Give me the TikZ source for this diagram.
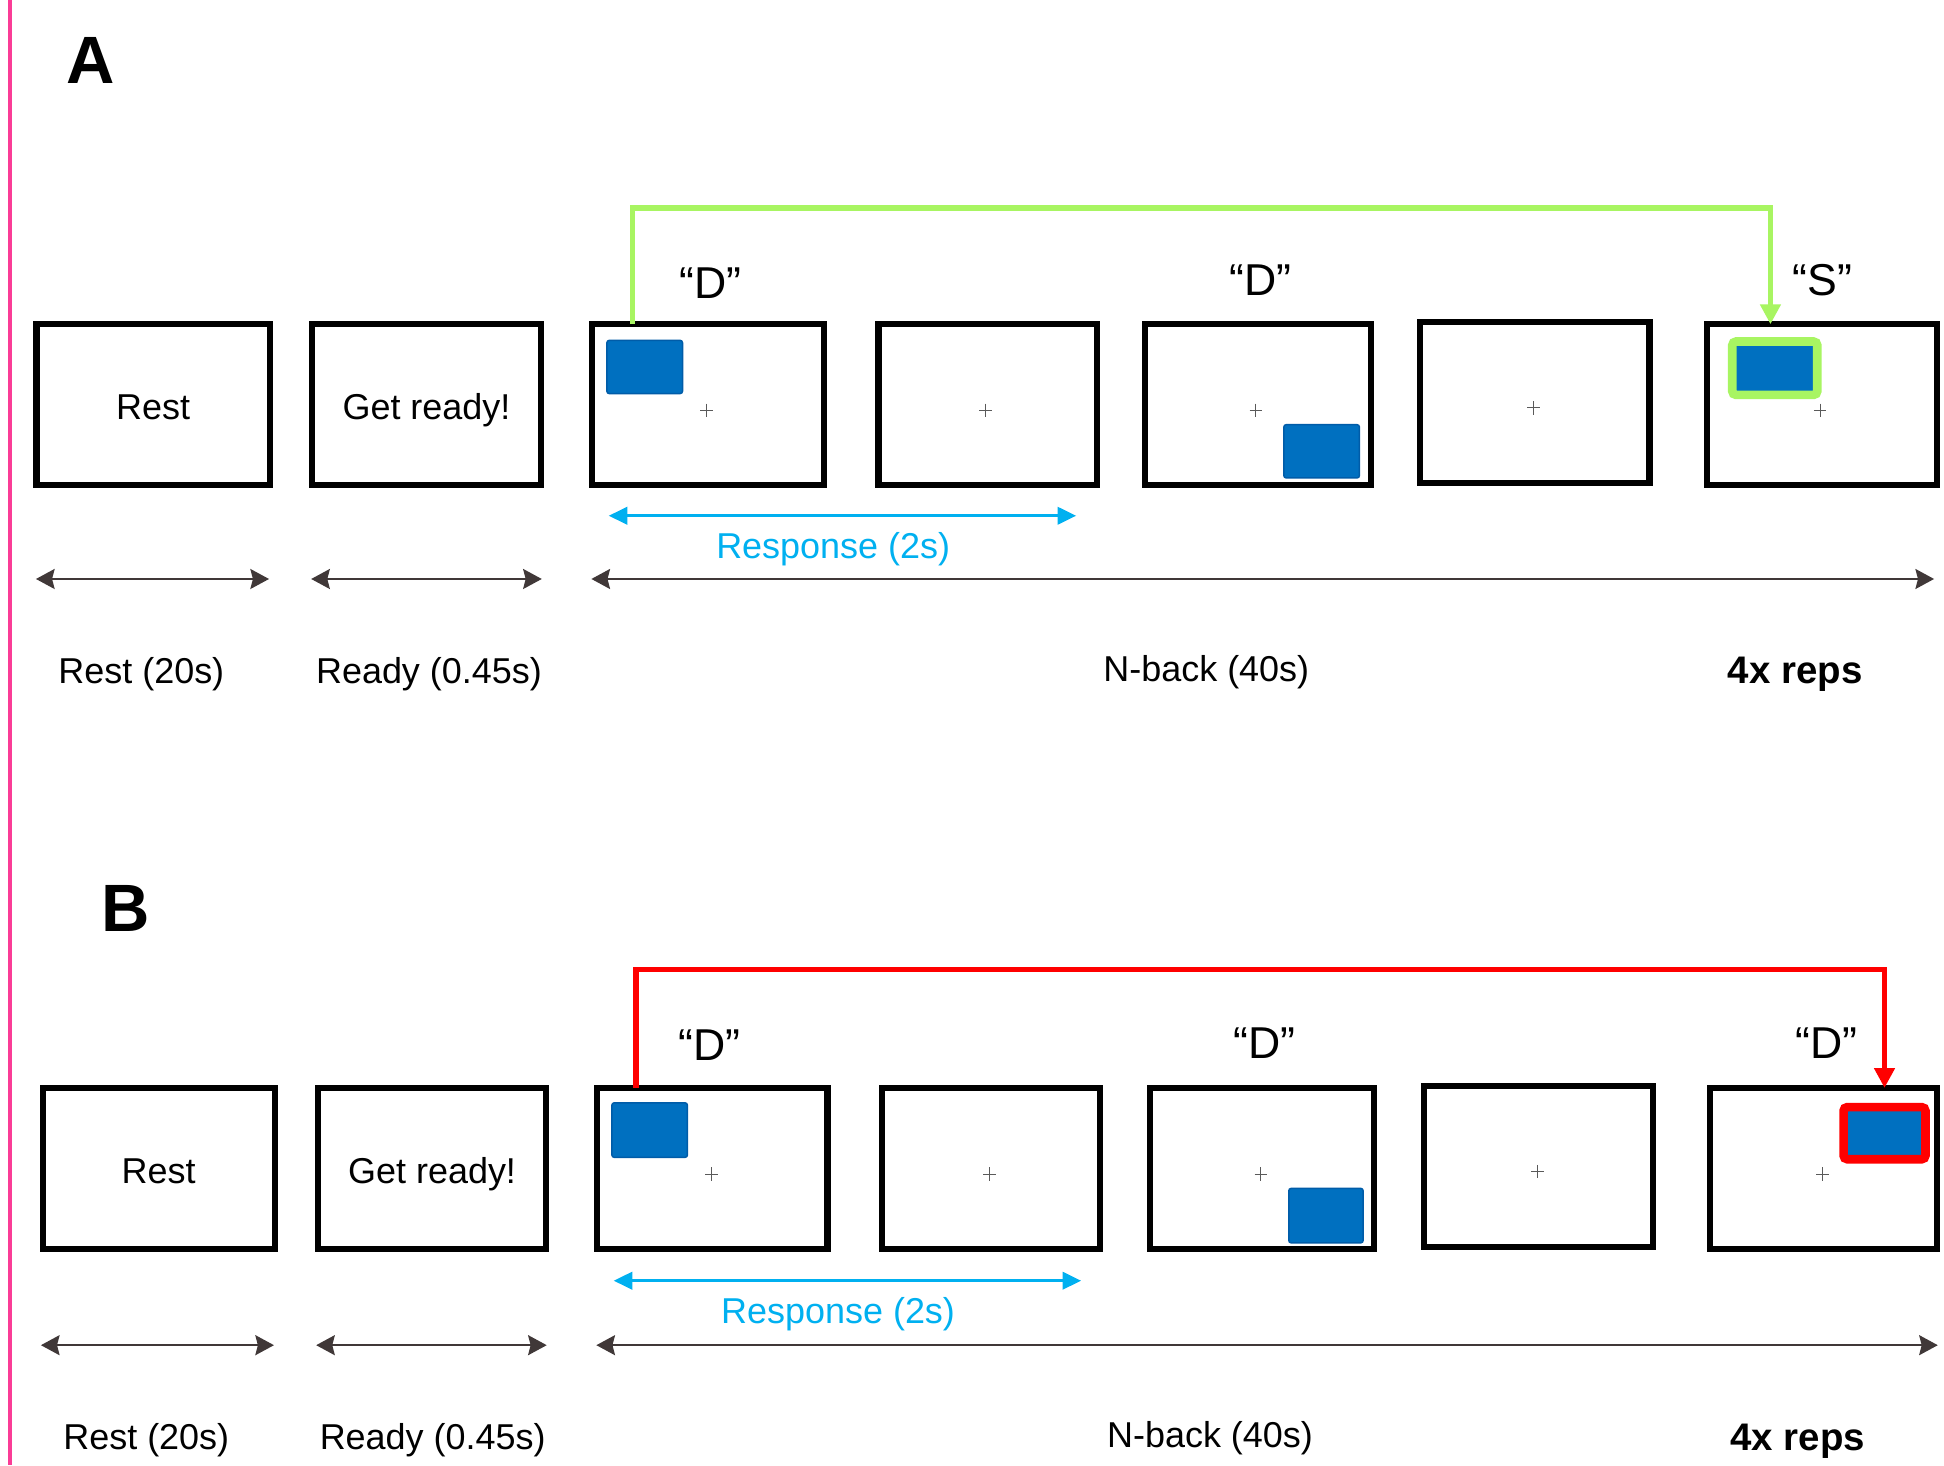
\documentclass[tikz,border=0pt]{standalone}
\usepackage{fontspec}
\setmainfont{Liberation Sans}
\usetikzlibrary{arrows.meta,calc}
\definecolor{pinkline}{RGB}{250,60,150}
\definecolor{greenc}{RGB}{168,245,98}
\definecolor{bluec}{RGB}{0,112,192}
\definecolor{blueedge}{RGB}{0,92,168}
\definecolor{cyanc}{RGB}{0,176,240}
\definecolor{redc}{RGB}{255,0,0}
\definecolor{darkc}{RGB}{64,56,56}
\definecolor{crossc}{RGB}{90,90,90}
\begin{document}
\begin{tikzpicture}[x=1pt,y=-1pt,
  screen/.style={draw=black,line width=5pt,minimum height=130pt,inner sep=0pt,outer sep=0pt,font=\fontsize{29}{34}\selectfont,text height=23.8pt,text depth=0pt},
  stim/.style={fill=bluec,draw=blueedge,line width=1.2pt,rounded corners=2pt,inner sep=0pt,outer sep=0pt},
  hitbox/.style={fill=bluec,draw=greenc,line width=7pt,rounded corners=3pt,inner sep=0pt,outer sep=0pt},
  missbox/.style={fill=bluec,draw=redc,line width=7pt,rounded corners=3pt,inner sep=0pt,outer sep=0pt},
  fixcross/.style={draw=crossc,line width=0.8pt},
  panel/.style={font=\fontsize{54}{62}\selectfont\bfseries},
  letter/.style={font=\fontsize{36}{42}\selectfont},
  lab/.style={font=\fontsize{29}{34}\selectfont,text height=20.8pt,text depth=0pt},
  boldlab/.style={font=\fontsize{31}{36}\selectfont\bfseries,text height=22.2pt,text depth=0pt},
  resp/.style={font=\fontsize{29}{34}\selectfont,text=cyanc,text height=20.8pt,text depth=0pt},
  timearrow/.style={draw=darkc,line width=2pt,{Stealth[width=16pt,length=15pt,inset=2pt]}-{Stealth[width=16pt,length=15pt,inset=2pt]}},
  resparrow/.style={draw=cyanc,line width=2.3pt,{Triangle[width=14pt,length=15pt]}-{Triangle[width=14pt,length=15pt]}},
  gconn/.style={draw=greenc,line width=4.5pt,-{Triangle[width=16pt,length=16pt]}},
  rconn/.style={draw=redc,line width=4.5pt,-{Triangle[width=16pt,length=16pt]}}
]
\useasboundingbox[fill=white] (0,0) rectangle (1568,1182);
\fill[pinkline] (6.5,0) rectangle (9.5,1182);

% ---------------- Panel A ----------------
\node[panel] (pA) at (73,49) {A};
\node[screen,minimum width=188pt] (a1) at (123.5,326.5) {Rest};
\node[screen,minimum width=185pt] (a2) at (344,326.5) {Get ready!};
\node[screen,minimum width=187pt] (a3) at (571,326.5) {};
\node[screen,minimum width=176pt] (a4) at (796.5,326.5) {};
\node[screen,minimum width=182pt] (a5) at (1014.5,326.5) {};
\node[screen,minimum width=185pt] (a6) at (1238,324.5) {};
\node[screen,minimum width=186pt] (a7) at (1469.5,326.5) {};

\node[stim,minimum width=61pt,minimum height=43pt] (sa3) at (520,296) {};
\node[stim,minimum width=61pt,minimum height=43pt] (sa5) at (1066,364) {};
\node[hitbox,minimum width=68.5pt,minimum height=43pt] (sa7) at (1431.5,297) {};

\foreach \x/\y in {570/331,795/331,1013/331,1237/329,1468/331}
  \draw[fixcross] (\x-5,\y) -- (\x+5,\y) (\x,\y-5.5) -- (\x,\y+5.5);

\node[letter] (la3) at (573,228) {“D”};
\node[letter] (la5) at (1017,226) {“D”};
\node[letter] (la7) at (1470,226) {“S”};

\draw[gconn] ($(a3.north west)+(32.5,0)$) -- ++(0,-93.5) -| ($(a7.north west)+(51.5,0)$);

\coordinate (ra1) at (491,416);
\coordinate (ra2) at (868,416);
\draw[resparrow] (ra1) -- (ra2);
\node[resp] (respA) at (672,440) {Response (2s)};

\coordinate (ta1) at (29,467);  \coordinate (ta2) at (217,467);
\coordinate (ta3) at (251,467); \coordinate (ta4) at (437,467);
\coordinate (ta5) at (477,467); \coordinate (ta6) at (1560,467);
\draw[timearrow] (ta1) -- (ta2);
\draw[timearrow] (ta3) -- (ta4);
\draw[timearrow] (ta5) -- (ta6);

\node[lab] (ya1) at (114,540.5) {Rest (20s)};
\node[lab] (ya2) at (346,540.5) {Ready (0.45s)};
\node[lab] (ya3) at (973,539.5) {N-back (40s)};
\node[boldlab] (ya4) at (1448,540.5) {4x reps};

% ---------------- Panel B ----------------
\node[panel] (pB) at (101,733) {B};
\node[screen,minimum width=187pt] (b1) at (128,942.5) {Rest};
\node[screen,minimum width=184pt] (b2) at (348.5,942.5) {Get ready!};
\node[screen,minimum width=186pt] (b3) at (574.5,942.5) {};
\node[screen,minimum width=176pt] (b4) at (799.5,942.5) {};
\node[screen,minimum width=181pt] (b5) at (1018,942.5) {};
\node[screen,minimum width=185pt] (b6) at (1241,941) {};
\node[screen,minimum width=183pt] (b7) at (1471,942.5) {};

\node[stim,minimum width=61pt,minimum height=44pt] (sb3) at (524,911.5) {};
\node[stim,minimum width=60pt,minimum height=44pt] (sb5) at (1069.5,980.5) {};
\node[missbox,minimum width=66pt,minimum height=42pt] (sb7) at (1520,914) {};

\foreach \x/\y in {574/947,798/947,1017/947,1240/945,1470/947}
  \draw[fixcross] (\x-5,\y) -- (\x+5,\y) (\x,\y-5.5) -- (\x,\y+5.5);

\node[letter] (lb3) at (572,843) {“D”};
\node[letter] (lb5) at (1020,841) {“D”};
\node[letter] (lb7) at (1473,841) {“D”};

\draw[rconn] ($(b3.north west)+(31.5,0)$) -- ++(0,-95.5) -| ($(b7.north west)+(140.5,0)$);

\coordinate (rb1) at (495,1033);
\coordinate (rb2) at (872,1033);
\draw[resparrow] (rb1) -- (rb2);
\node[resp] (respB) at (676,1057) {Response (2s)};

\coordinate (tb1) at (33,1085);  \coordinate (tb2) at (221,1085);
\coordinate (tb3) at (255,1085); \coordinate (tb4) at (441,1085);
\coordinate (tb5) at (481,1085); \coordinate (tb6) at (1563,1085);
\draw[timearrow] (tb1) -- (tb2);
\draw[timearrow] (tb3) -- (tb4);
\draw[timearrow] (tb5) -- (tb6);

\node[lab] (yb1) at (118,1158.5) {Rest (20s)};
\node[lab] (yb2) at (349,1158.5) {Ready (0.45s)};
\node[lab] (yb3) at (976,1157.5) {N-back (40s)};
\node[boldlab] (yb4) at (1450,1158.5) {4x reps};
\end{tikzpicture}
\end{document}
